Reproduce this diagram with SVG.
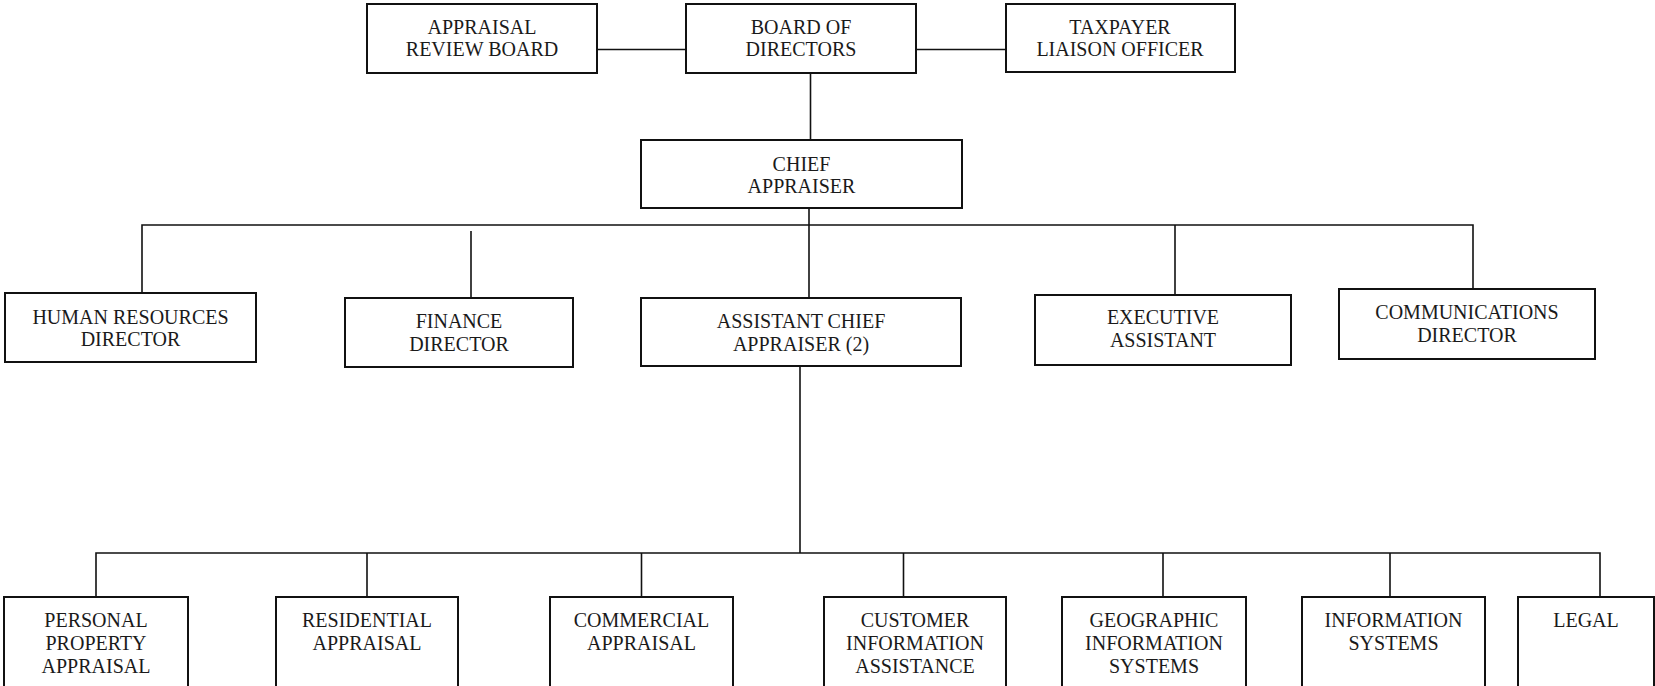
<svg xmlns="http://www.w3.org/2000/svg" width="1655" height="686" viewBox="0 0 1655 686">
<style>
.box{fill:#fff;stroke:#111;stroke-width:2}
.ln{fill:none;stroke:#111;stroke-width:1.6}
text{font-family:"Liberation Serif","Times New Roman",serif;font-size:20px;fill:#1a1a1a;text-anchor:middle}
</style>
<rect width="1655" height="686" fill="#fff"/>
<g id="connectors">
<path class="ln" d="M597 49.5H686M916 49.5H1006"/>
<path class="ln" d="M810.5 73V140"/>
<path class="ln" d="M809 208V298"/>
<path class="ln" d="M142 293V225H1473V289"/>
<path class="ln" d="M471 231V298"/>
<path class="ln" d="M1175 225V295"/>
<path class="ln" d="M800 366V553"/>
<path class="ln" d="M96 597V553H1600V597"/>
<path class="ln" d="M367 553V597M641.5 553V597M903.5 553V597M1163 553V597M1390 553V597"/>
</g>
<g id="arb"><rect class="box" x="367" y="4" width="230" height="69"/><text x="482" y="34">APPRAISAL</text><text x="482" y="56">REVIEW BOARD</text></g>
<g id="bod"><rect class="box" x="686" y="4" width="230" height="69"/><text x="801" y="34">BOARD OF</text><text x="801" y="56">DIRECTORS</text></g>
<g id="tlo"><rect class="box" x="1006" y="4" width="229" height="68"/><text x="1120" y="34">TAXPAYER</text><text x="1120" y="56">LIAISON OFFICER</text></g>
<g id="chief"><rect class="box" x="641" y="140" width="321" height="68"/><text x="801.5" y="171">CHIEF</text><text x="801.5" y="193">APPRAISER</text></g>
<g id="hr"><rect class="box" x="5" y="293" width="251" height="69"/><text x="130.5" y="324">HUMAN RESOURCES</text><text x="130.5" y="346">DIRECTOR</text></g>
<g id="fin"><rect class="box" x="345" y="298" width="228" height="69"/><text x="459" y="328">FINANCE</text><text x="459" y="351">DIRECTOR</text></g>
<g id="aca"><rect class="box" x="641" y="298" width="320" height="68"/><text x="801" y="328">ASSISTANT CHIEF</text><text x="801" y="351">APPRAISER (2)</text></g>
<g id="exec"><rect class="box" x="1035" y="295" width="256" height="70"/><text x="1163" y="324">EXECUTIVE</text><text x="1163" y="347">ASSISTANT</text></g>
<g id="comm"><rect class="box" x="1339" y="289" width="256" height="70"/><text x="1467" y="319">COMMUNICATIONS</text><text x="1467" y="342">DIRECTOR</text></g>
<g id="pp"><rect class="box" x="4" y="597" width="184" height="110"/><text x="96" y="627">PERSONAL</text><text x="96" y="650">PROPERTY</text><text x="96" y="673">APPRAISAL</text></g>
<g id="res"><rect class="box" x="276" y="597" width="182" height="110"/><text x="367" y="627">RESIDENTIAL</text><text x="367" y="650">APPRAISAL</text></g>
<g id="com"><rect class="box" x="550" y="597" width="183" height="110"/><text x="641.5" y="627">COMMERCIAL</text><text x="641.5" y="650">APPRAISAL</text></g>
<g id="cust"><rect class="box" x="824" y="597" width="182" height="110"/><text x="915" y="627">CUSTOMER</text><text x="915" y="650">INFORMATION</text><text x="915" y="673">ASSISTANCE</text></g>
<g id="geo"><rect class="box" x="1062" y="597" width="184" height="110"/><text x="1154" y="627">GEOGRAPHIC</text><text x="1154" y="650">INFORMATION</text><text x="1154" y="673">SYSTEMS</text></g>
<g id="is"><rect class="box" x="1302" y="597" width="183" height="110"/><text x="1393.5" y="627">INFORMATION</text><text x="1393.5" y="650">SYSTEMS</text></g>
<g id="legal"><rect class="box" x="1518" y="597" width="136" height="110"/><text x="1586" y="627">LEGAL</text></g>
</svg>
